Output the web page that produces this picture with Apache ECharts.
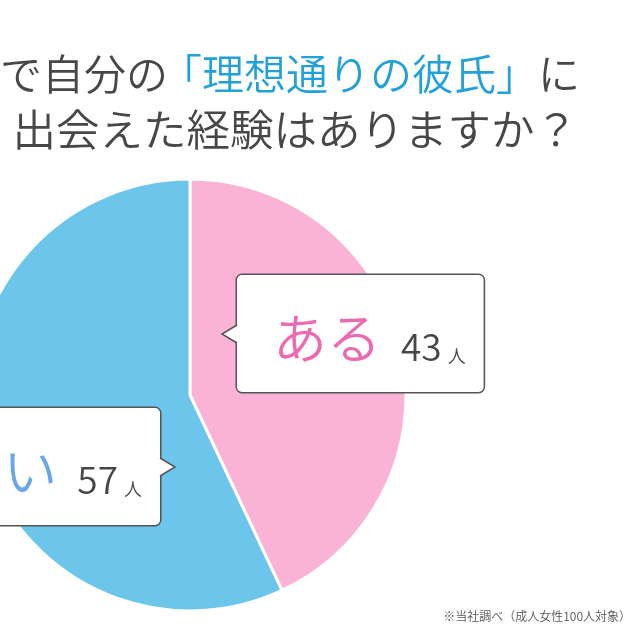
<!DOCTYPE html>
<html lang="ja">
<head>
<meta charset="utf-8">
<script src="https://cdn.jsdelivr.net/npm/echarts@6/dist/echarts.min.js"></script>
<style>
  html, body { margin: 0; background: #fff; }
  #chart { width: 640px; height: 640px; }
</style>
</head>
<body>
<div id="chart"></div>
<script>
// データ
const categories = ["ある", "ない"];
const counts = [43, 57];
const unit = "人";
const sliceColors = ["#FAB3D7", "#6CC5EA"];
const nameColors = ["#EE6AAE", "#6AA6EA"];

const titleLine1 = ["で自分の", "「理想通りの彼氏」", "に"];
const titleLine2 = "出会えた経験はありますか？";
const note = "※当社調べ（成人女性100人対象）";

const FONT = '"Noto Sans CJK JP", "Noto Sans", sans-serif';
const W = 350;
const GRAY = "#474747";
const BLUE = "#22A0DC";

// ラベルの吹き出し位置
const boxes = [
  { x: 237, y: 275, align: "left",  tip: [[237, 325], [222, 334], [237, 343]] },
  { x: 160, y: 408, align: "right", tip: [[160, 458], [175, 467], [160, 476]] }
];

const chart = echarts.init(document.getElementById("chart"));

const tipGraphics = [];
boxes.forEach(b => {
  const cover = b.tip.map((p, i) => i === 1 ? p : [p[0] + (b.align === "left" ? 1.5 : -1.5), p[1] + (i === 0 ? -1 : 1)]);
  tipGraphics.push({
    type: "polygon", z: 100, silent: true,
    shape: { points: cover },
    style: { fill: "#fff", stroke: null }
  });
  tipGraphics.push({
    type: "polyline", z: 101, silent: true,
    shape: { points: b.tip },
    style: { stroke: "#555", lineWidth: 1.5, fill: null }
  });
});

function titleText(text, x, y, align, color, size) {
  return {
    type: "text", z: 50, silent: true, x: x, y: y,
    style: { text: text, align: align, verticalAlign: "middle", font: W + " " + size + "px " + FONT, fill: color }
  };
}

chart.setOption({
  animation: false,
  backgroundColor: "#fff",
  graphic: [
    titleText(titleLine1[0], 168, 74, "right", GRAY, 42),
    titleText(titleLine1[1], 160, 74, "left", BLUE, 42),
    titleText(titleLine1[2], 580, 74, "right", GRAY, 42),
    titleText(titleLine2, 578, 129, "right", GRAY, 43.5),
    titleText(note, 631, 616, "right", "#555", 12)
  ].concat(tipGraphics),
  series: [{
    type: "pie",
    center: [190, 395],
    radius: 216,
    startAngle: 90,
    clockwise: true,
    silent: true,
    data: categories.map((n, i) => ({ name: n, value: counts[i], itemStyle: { color: sliceColors[i] } })),
    itemStyle: { borderColor: "#fff", borderWidth: 3 },
    labelLine: { show: false },
    label: {
      show: true,
      position: "inside",
      formatter: p => "{a" + p.dataIndex + "|" + p.name + "}{b|" + p.value + "}{c|" + unit + "}",
      backgroundColor: "#fff",
      borderColor: "#555",
      borderWidth: 1.5,
      borderRadius: 5,
      padding: [30, 18, 27, 36],
      rich: {
        a0: { fontSize: 54, fontWeight: W, fontFamily: FONT, color: nameColors[0], lineHeight: 60, verticalAlign: "bottom" },
        a1: { fontSize: 54, fontWeight: W, fontFamily: FONT, color: nameColors[1], lineHeight: 60, verticalAlign: "bottom" },
        b: { fontSize: 37, fontWeight: W, fontFamily: FONT, color: GRAY, lineHeight: 47, verticalAlign: "bottom", padding: [0, 0, 0, 20] },
        c: { fontSize: 18, fontWeight: W, fontFamily: FONT, color: GRAY, lineHeight: 34, verticalAlign: "bottom", padding: [0, 0, 0, 6] }
      }
    },
    labelLayout: p => ({
      x: boxes[p.dataIndex].x,
      y: boxes[p.dataIndex].y,
      align: boxes[p.dataIndex].align,
      verticalAlign: "top"
    })
  }]
});

window.addEventListener("resize", () => chart.resize());
</script>
</body>
</html>
